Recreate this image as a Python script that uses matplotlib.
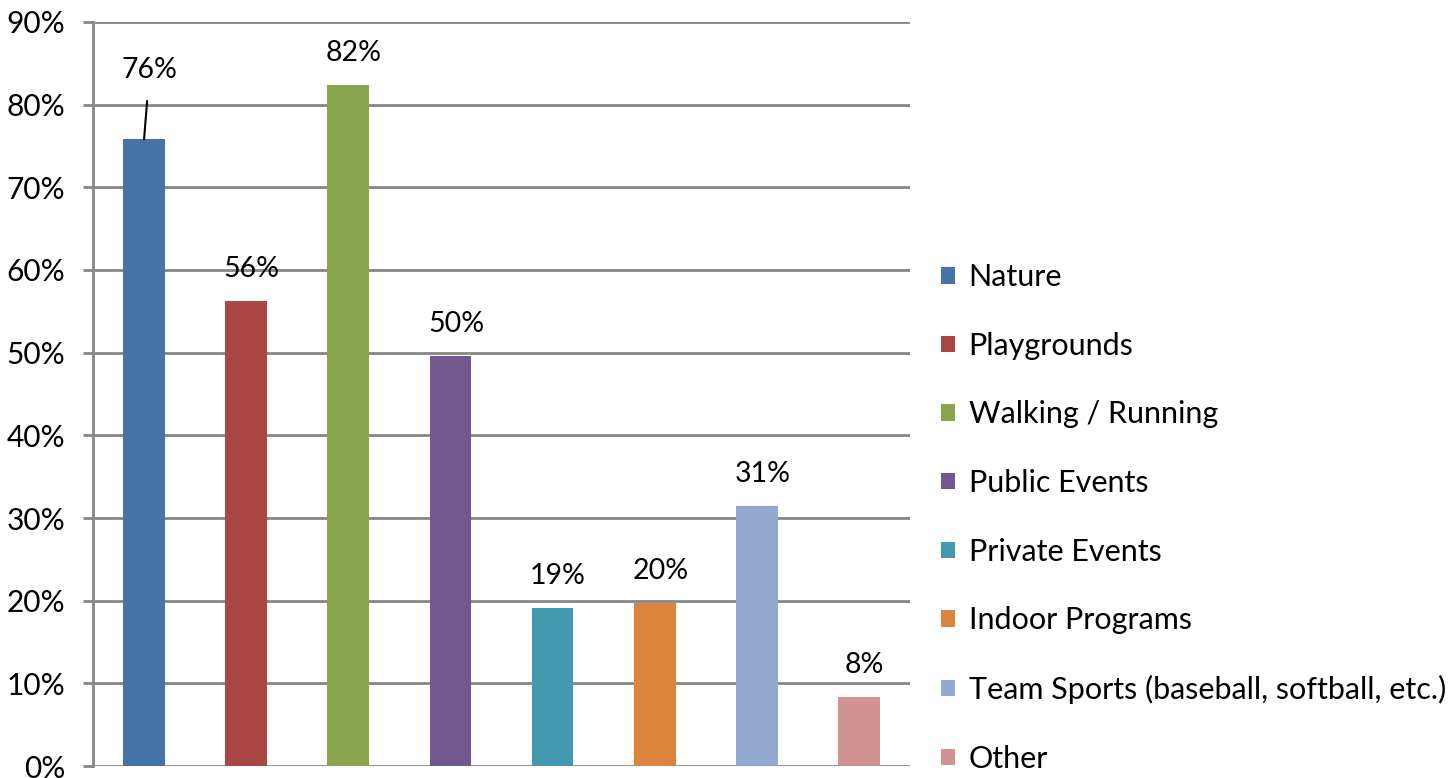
import matplotlib
matplotlib.use("Agg")
import matplotlib.pyplot as plt
from matplotlib.patches import Patch

plt.rcParams['font.family'] = ['Lato', 'DejaVu Sans']

categories = ['Nature', 'Playgrounds', 'Walking / Running', 'Public Events',
              'Private Events', 'Indoor Programs',
              'Team Sports (baseball, softball, etc.)', 'Other']
values = [75.8, 56.2, 82.4, 49.6, 19.1, 19.7, 31.4, 8.4]
labels = ['76%', '56%', '82%', '50%', '19%', '20%', '31%', '8%']
colors = ['#4572A7', '#AA4643', '#89A54E', '#71588F',
          '#4198AF', '#DB843D', '#93A9CF', '#D19392']
yticks = [0, 10, 20, 30, 40, 50, 60, 70, 80, 90]

W, H = 1450, 778
fig = plt.figure(figsize=(W / 100, H / 100), dpi=100)
ax = fig.add_axes([93 / W, 1 - 766 / H, (910 - 93) / W, (766 - 22) / H])

grid_c = '#868686'
x = list(range(len(values)))
ax.bar(x, values, width=0.41, color=colors, zorder=3)

ax.set_xlim(-0.5, len(values) - 0.5)
ax.set_ylim(0, 90)
ax.set_yticks(yticks)
ax.set_yticklabels(['%d%%' % t for t in yticks], fontsize=21.5)
ax.set_xticks([])
ax.yaxis.grid(True, color=grid_c, linewidth=2, zorder=0)
ax.tick_params(axis='y', direction='out', length=7, width=2, color=grid_c, pad=13)
for s in ['top', 'right', 'bottom']:
    ax.spines[s].set_visible(False)
ax.spines['left'].set_color(grid_c)
ax.spines['left'].set_linewidth(2)

for i, (v, lab) in enumerate(zip(values, labels)):
    if i == 0:
        ax.annotate(lab, xy=(i, v), xytext=(4, 50), textcoords='offset points',
                    ha='center', va='center', fontsize=20.5,
                    arrowprops=dict(arrowstyle='-', color='black', lw=1.5,
                                    shrinkA=11, shrinkB=0))
    else:
        ax.annotate(lab, xy=(i, v), xytext=(4, 23), textcoords='offset points',
                    ha='center', va='center', fontsize=20.5)

handles = [Patch(facecolor=c, edgecolor='none') for c in colors]
fig.legend(handles, categories, loc='upper left',
           bbox_to_anchor=(929 / W, 1 - 251 / H), frameon=False,
           fontsize=22, handlelength=0.45, handleheight=0.45,
           handletextpad=0.45, labelspacing=1.33, borderaxespad=0)

fig.savefig('out.png', dpi=100)
